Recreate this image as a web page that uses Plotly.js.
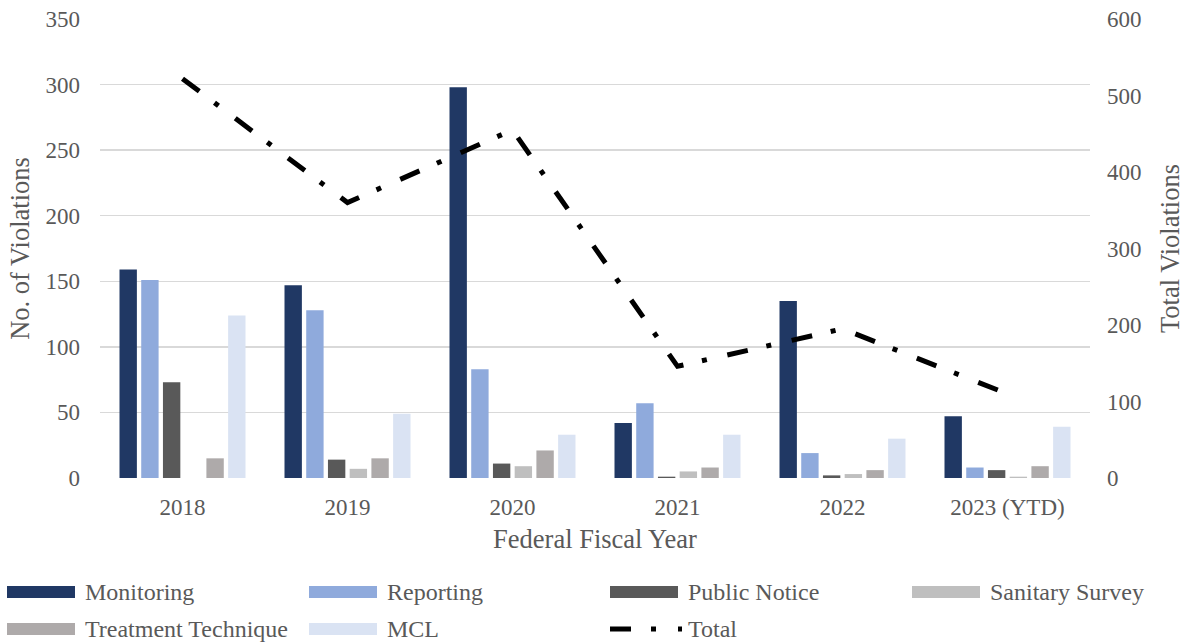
<!DOCTYPE html>
<html>
<head>
<meta charset="utf-8">
<script src="https://cdn.plot.ly/plotly-3.0.1.min.js"></script>
<style>
  html, body { margin: 0; padding: 0; background: #ffffff; }
  #chart { width: 1185px; height: 644px; }
</style>
</head>
<body>
<div id="chart"></div>
<script>
// Violations by federal fiscal year
const years = ['2018', '2019', '2020', '2021', '2022', '2023 (YTD)'];

const monitoring         = [159, 147, 298, 42, 135, 47];
const reporting          = [151, 128, 83, 57, 19, 8];
const publicNotice       = [73, 14, 11, 1, 2, 6];
const sanitarySurvey     = [0, 7, 9, 5, 3, 1];
const treatmentTechnique = [15, 15, 21, 8, 6, 9];
const mcl                = [124, 49, 33, 33, 30, 39];

const totals = [522, 360, 455, 146, 195, 110];

const seriesNames  = ['Monitoring', 'Reporting', 'Public Notice', 'Sanitary Survey', 'Treatment Technique', 'MCL'];
const seriesValues = [monitoring, reporting, publicNotice, sanitarySurvey, treatmentTechnique, mcl];
const seriesColors = ['#203864', '#8faadc', '#595959', '#bfbfbf', '#aeaaaa', '#dae3f3'];
const totalName = 'Total';

const FONT = 'Liberation Serif, Times New Roman, serif';
const TEXT = '#595959';
const TOTAL_DASH = '21px,19px,5px,21px';

const traces = seriesNames.map((name, i) => ({
  type: 'bar',
  name: name,
  x: years,
  y: seriesValues[i],
  marker: { color: seriesColors[i], line: { width: 0 } },
  showlegend: false,
  hoverinfo: 'x+y+name'
}));

traces.push({
  type: 'scatter',
  mode: 'lines',
  name: totalName,
  x: years,
  y: totals,
  yaxis: 'y2',
  line: { color: '#000000', width: 5, dash: TOTAL_DASH },
  showlegend: false
});

// Plot area in pixels, used to place the hand-built legend
const W = 1185, H = 644;
const M = { l: 100, r: 95, t: 19, b: 166 };
const plotW = W - M.l - M.r;
const plotH = H - M.t - M.b;
const px2x = p => (p - M.l) / plotW;
const py2y = p => (H - M.b - p) / plotH;

// Legend: 4 columns, 2 rows; Total sits in row 2, column 3
const colX = [7, 309, 610, 912];
const rowY = [592, 629];
const swatchW = 68, swatchH = 12, textGap = 76;

const shapes = [];
const annotations = [];
const legendItems = seriesNames.map((n, i) => ({ name: n, color: seriesColors[i], kind: 'bar' }));
legendItems.push({ name: totalName, color: '#000000', kind: 'line' });
const slots = [[0,0],[0,1],[0,2],[0,3],[1,0],[1,1],[1,2]];

legendItems.forEach((item, i) => {
  const [r, c] = slots[i];
  const x0 = colX[c], yc = rowY[r];
  if (item.kind === 'bar') {
    shapes.push({
      type: 'rect', xref: 'paper', yref: 'paper',
      x0: px2x(x0), x1: px2x(x0 + swatchW),
      y0: py2y(yc + swatchH / 2), y1: py2y(yc - swatchH / 2),
      fillcolor: item.color, line: { width: 0 }
    });
  } else {
    shapes.push({
      type: 'line', xref: 'paper', yref: 'paper',
      x0: px2x(x0), x1: px2x(x0 + swatchW + 4),
      y0: py2y(yc), y1: py2y(yc),
      line: { color: item.color, width: 5, dash: '21px,20px,5px,22px,5px,100px' }
    });
  }
  annotations.push({
    xref: 'paper', yref: 'paper',
    x: px2x(x0 + textGap), y: py2y(yc),
    xanchor: 'left', yanchor: 'middle',
    text: item.name, showarrow: false,
    font: { family: FONT, size: 24, color: TEXT }
  });
});

const layout = {
  width: W, height: H,
  margin: M,
  paper_bgcolor: '#ffffff',
  plot_bgcolor: '#ffffff',
  font: { family: FONT, size: 23, color: TEXT },
  barmode: 'group',
  bargap: 0.21,
  bargroupgap: 0.2,
  showlegend: false,
  xaxis: {
    type: 'category',
    tickfont: { family: FONT, size: 23, color: TEXT },
    ticks: '',
    ticklabelstandoff: 13,
    showgrid: false,
    showline: false,
    zeroline: false,
    title: { text: 'Federal Fiscal Year', font: { family: FONT, size: 26.5, color: TEXT }, standoff: 10 }
  },
  yaxis: {
    range: [0, 350],
    dtick: 50,
    tickfont: { family: FONT, size: 23, color: TEXT },
    ticklabelstandoff: 19,
    showgrid: true,
    gridcolor: '#d9d9d9',
    gridwidth: 1.5,
    zeroline: false,
    showline: false,
    title: { text: 'No. of Violations', font: { family: FONT, size: 26.5, color: TEXT }, standoff: 8 }
  },
  yaxis2: {
    overlaying: 'y',
    side: 'right',
    range: [0, 600],
    dtick: 100,
    tickfont: { family: FONT, size: 23, color: TEXT },
    ticklabelstandoff: 16,
    showgrid: false,
    zeroline: false,
    showline: false,
    title: { text: 'Total Violations', font: { family: FONT, size: 26.5, color: TEXT }, standoff: 21 }
  },
  shapes: shapes,
  annotations: annotations
};

Plotly.newPlot('chart', traces, layout, { displayModeBar: false, staticPlot: true });
</script>
</body>
</html>
